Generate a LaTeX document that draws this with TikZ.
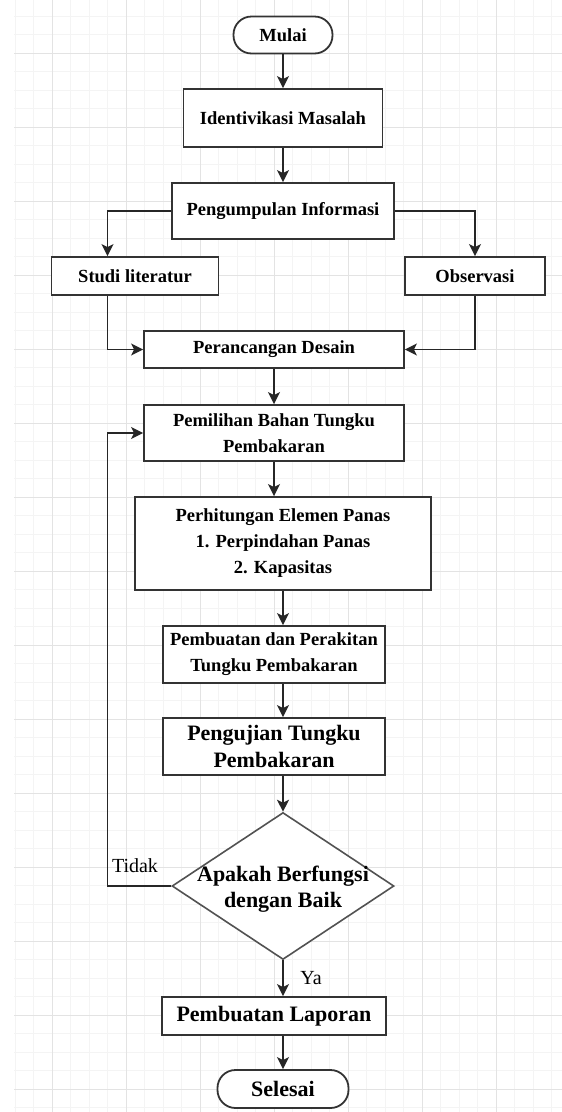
\documentclass[tikz,border=0pt]{standalone}
\usepackage{fontspec}
\setmainfont{Liberation Serif}
\usetikzlibrary{shapes.geometric,arrows.meta}

\newcommand\txtkecil{\fontsize{18.5}{26}\selectfont\bfseries}
\newcommand\txtbesar{\fontsize{22}{26.5}\selectfont\bfseries}

\definecolor{garis}{HTML}{333333}
\definecolor{gridmin}{HTML}{F4F4F4}
\definecolor{gridmaj}{HTML}{E3E3E3}

\tikzset{
  proses/.style={draw=garis, line width=1.8pt, fill=white, align=center, inner sep=0pt, font=\txtkecil},
  mulaiselesai/.style={proses, rounded corners=18pt},
  keputusan/.style={diamond, draw=garis!85, line width=1.6pt, fill=white, inner sep=0pt},
  panah/.style={-{Stealth[length=12pt,width=12pt,inset=3pt]}, line width=1.6pt, draw=black!85},
  ket/.style={font=\fontsize{20}{24}\selectfont, inner sep=0pt}
}

\begin{document}
\begin{tikzpicture}[x=1pt,y=-1pt]
      \fill[white] (0,0) rectangle (562,1112);
      \useasboundingbox (0,0) rectangle (562,1112);

      % grid background
      \foreach \i in {0,...,29} \draw[gridmin, line width=0.8pt] (15+18.5*\i,0) -- (15+18.5*\i,1112);
      \foreach \i in {0,...,60} \draw[gridmin, line width=0.8pt] (14,-2.5+18.5*\i) -- (562,-2.5+18.5*\i);
      \foreach \i in {0,...,6} \draw[gridmaj, line width=1pt] (52+74*\i,0) -- (52+74*\i,1112);
      \foreach \i in {0,...,14} \draw[gridmaj, line width=1pt] (14,53+74*\i) -- (562,53+74*\i);

      \node[mulaiselesai, minimum width=99pt, minimum height=37pt] (mulai) at (283,35) {Mulai};
      \node[proses, minimum width=199pt, minimum height=58pt] (identifikasi) at (283,118) {Identivikasi Masalah};
      \node[proses, minimum width=222pt, minimum height=56pt] (kumpul) at (283,211) {Pengumpulan Informasi};
      \node[proses, minimum width=167pt, minimum height=38pt] (studi) at (135,276) {Studi literatur};
      \node[proses, minimum width=140pt, minimum height=38pt] (observasi) at (475,276) {Observasi};
      \node[proses, minimum width=260pt, minimum height=37pt] (rancang) at (274,349.5) {Perancangan Desain};
      \node[proses, minimum width=260pt, minimum height=56pt] (pilih) at (274,433) {Pemilihan Bahan Tungku\\Pembakaran};
      \node[proses, minimum width=296pt, minimum height=93pt] (hitung) at (283,543.5) {Perhitungan Elemen Panas\\1. Perpindahan Panas\\2. Kapasitas};
      \node[proses, minimum width=222pt, minimum height=57pt] (rakit) at (274,654.5) {Pembuatan dan Perakitan\\Tungku Pembakaran};
      \node[proses, minimum width=222pt, minimum height=57pt, font=\txtbesar] (uji) at (274,746.5) {Pengujian Tungku\\Pembakaran};
      \node[keputusan, minimum width=222pt, minimum height=147pt] (cek) at (283,886) {};
      \node[align=center, inner sep=0pt, font=\txtbesar] (cekteks) at (283,889) {Apakah Berfungsi\\dengan Baik};
      \node[proses, minimum width=224pt, minimum height=38pt, font=\txtbesar] (laporan) at (274,1016) {Pembuatan Laporan};
      \node[mulaiselesai, minimum width=131pt, minimum height=38pt, font=\txtbesar] (selesai) at (283,1089) {Selesai};

      \coordinate (balik) at (107.5,886);
      \node[ket] (tidak) at (135,866) {Tidak};
      \node[ket] (ya) at (311,978) {Ya};

      \draw[panah] (mulai.south) -- (identifikasi.north);
      \draw[panah] (identifikasi.south) -- (kumpul.north);
      \draw[panah] (kumpul.west) -| ([xshift=-27.5pt]studi.north);
      \draw[panah] (kumpul.east) -| (observasi.north);
      \draw[panah] ([xshift=-27.5pt]studi.south) |- (rancang.west);
      \draw[panah] (observasi.south) |- (rancang.east);
      \draw[panah] (rancang.south) -- (pilih.north);
      \draw[panah] (pilih.south) -- (pilih.south |- hitung.north);
      \draw[panah] (hitung.south) -- (hitung.south |- rakit.north);
      \draw[panah] (rakit.south -| hitung) -- (uji.north -| hitung);
      \draw[panah] (uji.south -| cek) -- (cek.north);
      \draw[panah] (cek.west) -- (balik) |- (pilih.west);
      \draw[panah] (cek.south) -- (cek.south |- laporan.north);
      \draw[panah] (laporan.south -| selesai) -- (selesai.north);
    \end{tikzpicture}
\end{document}
